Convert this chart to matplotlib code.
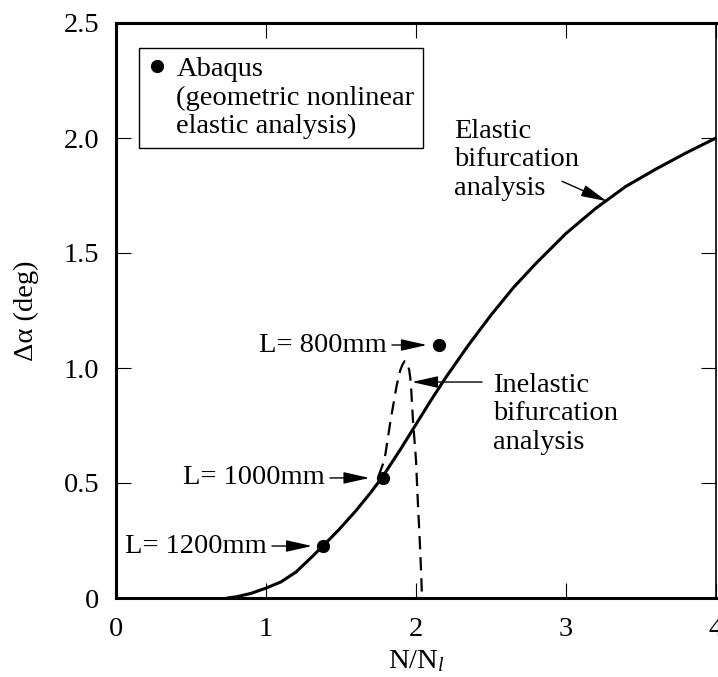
import matplotlib
matplotlib.use('Agg')
import matplotlib.pyplot as plt
from matplotlib.lines import Line2D

plt.rcParams['font.family'] = ['Liberation Serif', 'DejaVu Serif']
plt.rcParams['mathtext.fontset'] = 'custom'
plt.rcParams['mathtext.rm'] = 'Liberation Serif'
plt.rcParams['mathtext.it'] = 'Liberation Serif:italic'

FS = 20.5

# elastic bifurcation analysis (solid)
elastic_x = [0.74, 0.8, 0.9, 1.0, 1.1, 1.2, 1.3, 1.38, 1.49, 1.6, 1.7, 1.78, 1.9,
             2.0, 2.1, 2.2, 2.35, 2.5, 2.65, 2.8, 3.0, 3.2, 3.4, 3.6, 3.8, 4.0]
elastic_y = [0.0, 0.005, 0.02, 0.043, 0.07, 0.113, 0.175, 0.226, 0.30, 0.38, 0.46, 0.53, 0.65,
             0.755, 0.86, 0.96, 1.10, 1.23, 1.35, 1.455, 1.585, 1.695, 1.79, 1.865, 1.935, 2.0]

# inelastic bifurcation analysis (dashed)
inelastic_x = [1.75, 1.79, 1.83, 1.87, 1.895, 1.91, 1.925, 1.94, 1.955, 1.965, 1.98,
               2.0, 2.01, 2.025, 2.035, 2.04]
inelastic_y = [0.53, 0.60, 0.77, 0.92, 0.99, 1.015, 1.03, 1.025, 0.99, 0.94, 0.77,
               0.60, 0.45, 0.25, 0.10, 0.0]

# Abaqus results
abaqus_x = [1.38, 1.78, 2.15]
abaqus_y = [0.226, 0.522, 1.10]
abaqus_labels = ['L= 1200mm', 'L= 1000mm', 'L= 800mm']
label_tail_x = [1.04, 1.427, 1.84]
label_tip_x = [1.307, 1.69, 2.073]

fig = plt.figure(figsize=(7.18, 6.77), dpi=100)
ax = fig.add_axes([116 / 718, 79 / 677, 600 / 718, 575 / 677])

ax.plot(elastic_x, elastic_y, color='black', lw=2.2, solid_capstyle='butt',
        solid_joinstyle='round')
ax.plot(inelastic_x, inelastic_y, color='black', lw=1.6, dashes=(6, 3.5))
ax.plot(abaqus_x, abaqus_y, 'o', color='black', ms=8.5, ls='none')

arrow_kw = dict(arrowstyle='-|>,head_length=0.8,head_width=0.18', color='black',
                lw=1.0, shrinkA=0, shrinkB=0, mutation_scale=20)

for lab, tx, hx, y in zip(abaqus_labels, label_tail_x, label_tip_x, abaqus_y):
    ax.text(tx - 0.035, y, lab, ha='right', va='center', fontsize=FS)
    ax.annotate('', xy=(hx, y), xytext=(tx, y), arrowprops=arrow_kw)

ax.text(2.253, 2.083, 'Elastic\nbifurcation\nanalysis', ha='left', va='top',
        fontsize=FS, linespacing=1.18)
ax.annotate('', xy=(3.273, 1.725), xytext=(2.973, 1.812), arrowprops=arrow_kw)

ax.text(2.513, 0.979, 'Inelastic\nbifurcation\nanalysis', ha='left', va='top',
        fontsize=FS, linespacing=1.18)
ax.annotate('', xy=(1.973, 0.939), xytext=(2.44, 0.939), arrowprops=arrow_kw)

handles = [Line2D([], [], marker='o', color='black', ms=8.5, ls='none'),
           Line2D([], [], ls='none'), Line2D([], [], ls='none')]
labels = ['Abaqus', '(geometric nonlinear', 'elastic analysis)']
leg = ax.legend(handles, labels, loc='upper left', bbox_to_anchor=(0.038, 0.957),
                borderaxespad=0, fontsize=FS, frameon=True, fancybox=False,
                edgecolor='black', framealpha=1, handlelength=0.7,
                handletextpad=0.32, borderpad=0.3, labelspacing=0.09)
leg.get_frame().set_linewidth(1.0)

ax.set_xlim(0, 4)
ax.set_ylim(0, 2.5)
ax.set_xticks([0, 1, 2, 3, 4])
ax.set_xticklabels(['0', '1', '2', '3', '4'])
ax.set_yticks([0, 0.5, 1.0, 1.5, 2.0, 2.5])
ax.set_yticklabels(['0', '0.5', '1.0', '1.5', '2.0', '2.5'])
ax.tick_params(direction='in', length=11, width=0.8, labelsize=FS,
               top=True, right=True)
ax.tick_params(axis='x', pad=14)
ax.tick_params(axis='y', pad=12)

for s in ['left', 'bottom', 'top']:
    ax.spines[s].set_linewidth(2.2)
ax.spines['right'].set_linewidth(1.2)

ax.set_xlabel(r'N/N$_{\mathit{l}}$', fontsize=FS, labelpad=4)
ax.set_ylabel('Δα (deg)', fontsize=FS, labelpad=18)

fig.savefig('out.png', dpi=100)
